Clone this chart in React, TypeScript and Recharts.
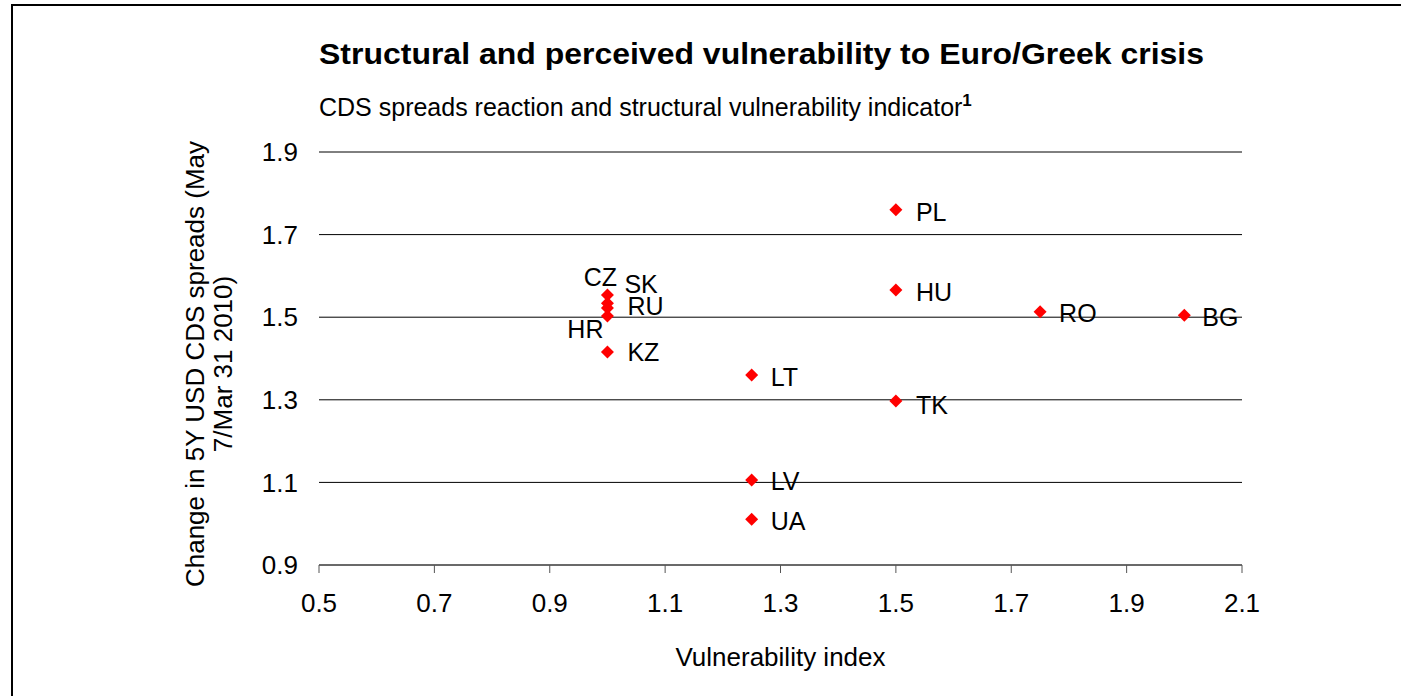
import React from "react";
import { ScatterChart, Scatter, XAxis, YAxis, CartesianGrid } from "recharts";

const countries = ["PL", "HU", "RO", "BG", "TK", "LT", "LV", "UA", "KZ", "CZ", "SK", "RU", "HR"];
const vulnerabilityIndex = [1.5, 1.5, 1.75, 2.0, 1.5, 1.25, 1.25, 1.25, 1.0, 1.0, 1.0, 1.0, 1.0];
const cdsChange = [1.76, 1.566, 1.513, 1.505, 1.297, 1.36, 1.106, 1.011, 1.416, 1.554, 1.534, 1.522, 1.503];
const xTicks = [0.5, 0.7, 0.9, 1.1, 1.3, 1.5, 1.7, 1.9, 2.1];
const yTicks = [0.9, 1.1, 1.3, 1.5, 1.7, 1.9];

const title = "Structural and perceived vulnerability to Euro/Greek crisis";
const subtitle = "CDS spreads reaction and structural vulnerability indicator";
const footnoteMark = "1";
const xLabel = "Vulnerability index";
const yLabelLines = ["Change in 5Y USD CDS spreads (May", "7/Mar 31 2010)"];

const data = countries.map((name, i) => ({ name, x: vulnerabilityIndex[i], y: cdsChange[i] }));

const FONT = "'Liberation Sans', Arial, sans-serif";
const FS = 26;

// label placement relative to marker (layout only)
const labelPlacement: Record<string, { dx: number; dy: number; anchor: "start" | "middle" | "end" }> = {
  PL: { dx: 20, dy: 2, anchor: "start" },
  HU: { dx: 20, dy: 2, anchor: "start" },
  RO: { dx: 19, dy: 1, anchor: "start" },
  BG: { dx: 18, dy: 2, anchor: "start" },
  TK: { dx: 20, dy: 4, anchor: "start" },
  LT: { dx: 19, dy: 2, anchor: "start" },
  LV: { dx: 19, dy: 1, anchor: "start" },
  UA: { dx: 19, dy: 2, anchor: "start" },
  KZ: { dx: 20, dy: 0, anchor: "start" },
  CZ: { dx: -7, dy: -18, anchor: "middle" },
  SK: { dx: 17, dy: -19, anchor: "start" },
  RU: { dx: 20, dy: -2, anchor: "start" },
  HR: { dx: -4, dy: 13, anchor: "end" },
};

const DiamondShape = (props: any) => {
  const { cx, cy, payload } = props;
  const p = labelPlacement[payload.name] || { dx: 20, dy: 0, anchor: "start" };
  const r = 6.5;
  return (
    <g>
      <polygon
        points={`${cx},${cy - r} ${cx + r},${cy} ${cx},${cy + r} ${cx - r},${cy}`}
        fill="#FF0000"
      />
      <text
        x={cx + p.dx}
        y={cy + p.dy}
        textAnchor={p.anchor}
        dominantBaseline="central"
        fontFamily={FONT}
        fontSize={25}
        fill="#000"
      >
        {payload.name}
      </text>
    </g>
  );
};

const YLabel = () => {
  const cy = 364;
  return (
    <g>
      <text
        transform={`translate(195,${cy}) rotate(-90)`}
        textAnchor="middle"
        dominantBaseline="central"
        fontFamily={FONT}
        fontSize={FS}
        fill="#000"
      >
        {yLabelLines[0]}
      </text>
      <text
        transform={`translate(223,${cy}) rotate(-90)`}
        textAnchor="middle"
        dominantBaseline="central"
        fontFamily={FONT}
        fontSize={FS}
        fill="#000"
      >
        {yLabelLines[1]}
      </text>
    </g>
  );
};

export default function App() {
  return (
    <div style={{ position: "absolute", left: 0, top: 0, width: 1401, height: 696, overflow: "hidden", background: "#fff" }}>
      <div style={{ position: "absolute", left: 11, top: 4, width: 1500, height: 800, border: "2px solid #000", boxSizing: "border-box" }} />
      <div style={{ position: "absolute", left: 0, top: 0 }}>
        <ScatterChart width={1401} height={696} margin={{ top: 152, right: 159, bottom: 71, left: 259 }}>
          <CartesianGrid horizontal={true} vertical={false} stroke="#000" strokeWidth={1} />
          <XAxis
            type="number"
            dataKey="x"
            domain={[0.5, 2.1]}
            ticks={xTicks}
            height={60}
            stroke="#555"
            tickSize={8}
            tickMargin={21}
            tickLine={{ stroke: "#555" }}
            tick={{ fill: "#000", fontFamily: FONT, fontSize: FS }}
            tickFormatter={(v: number) => v.toFixed(1)}
            interval={0}
          />
          <YAxis
            type="number"
            dataKey="y"
            domain={[0.9, 1.9]}
            ticks={yTicks}
            width={60}
            axisLine={false}
            tickLine={false}
            tickSize={0}
            tickMargin={21}
            tick={{ fill: "#000", fontFamily: FONT, fontSize: FS }}
            tickFormatter={(v: number) => v.toFixed(1)}
            interval={0}
          />
          <Scatter data={data} shape={<DiamondShape />} isAnimationActive={false} />
        </ScatterChart>
      </div>
      <svg width={1401} height={696} style={{ position: "absolute", left: 0, top: 0, pointerEvents: "none" }}>
        <text x={319} y={64} fontFamily={FONT} fontWeight="bold" fontSize={30} fill="#000" textLength={885} lengthAdjust="spacingAndGlyphs">
          {title}
        </text>
        <text x={319} y={116} fontFamily={FONT} fontSize={25} fill="#000">
          {subtitle}
          <tspan fontWeight="bold" fontSize={17} dy={-10}>{footnoteMark}</tspan>
        </text>
        <text x={780.5} y={666} textAnchor="middle" fontFamily={FONT} fontSize={FS} fill="#000">
          {xLabel}
        </text>
        <YLabel />
      </svg>
    </div>
  );
}
